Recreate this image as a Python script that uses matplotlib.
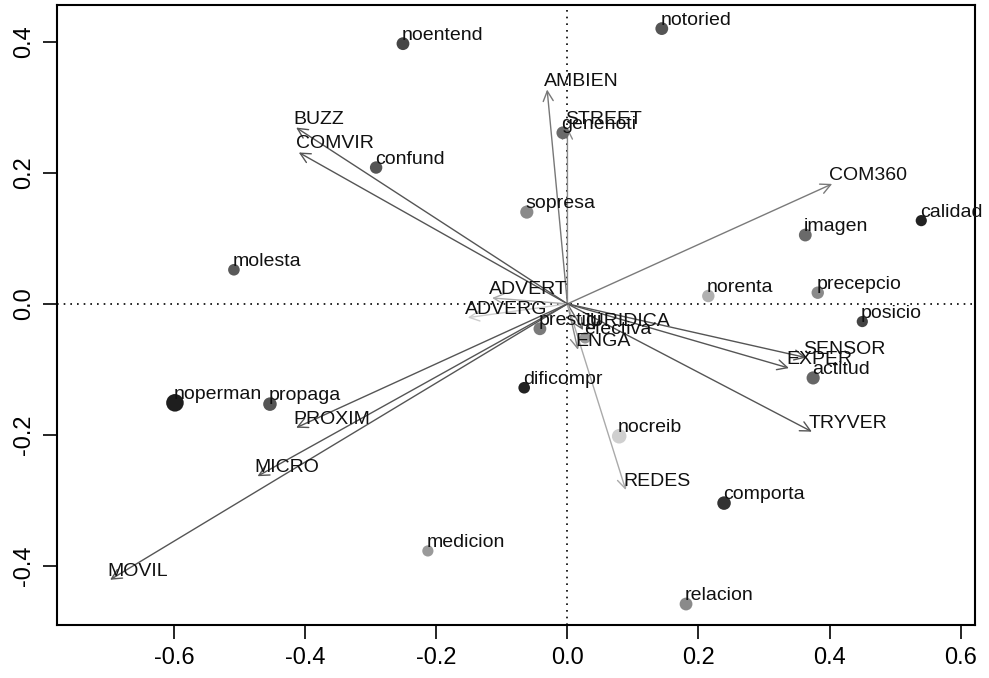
import matplotlib
matplotlib.use("Agg")
import matplotlib.pyplot as plt

plt.rcParams["font.family"] = ["Liberation Sans", "DejaVu Sans"]

# point scores (individual categories)
point_names = ["noentend", "notoried", "genenoti", "confund", "sopresa", "molesta",
               "imagen", "calidad", "norenta", "precepcio", "posicio", "actitud",
               "prestigi", "efectiva", "dificompr", "noperman", "propaga", "nocreib",
               "comporta", "medicion", "relacion"]
point_x = [-0.251, 0.144, -0.007, -0.292, -0.062, -0.509,
           0.363, 0.540, 0.215, 0.382, 0.450, 0.375,
           -0.042, 0.027, -0.066, -0.599, -0.454, 0.079,
           0.239, -0.213, 0.181]
point_y = [0.397, 0.420, 0.261, 0.208, 0.140, 0.052,
           0.105, 0.127, 0.012, 0.017, -0.027, -0.113,
           -0.038, -0.052, -0.128, -0.151, -0.153, -0.202,
           -0.304, -0.377, -0.458]
point_grey = ["#454545", "#555555", "#6a6a6a", "#555555", "#8a8a8a", "#5a5a5a",
              "#6a6a6a", "#222222", "#b0b0b0", "#8a8a8a", "#444444", "#666666",
              "#7a7a7a", "#9a9a9a", "#222222", "#1e1e1e", "#555555", "#cfcfcf",
              "#333333", "#9a9a9a", "#8a8a8a"]
point_size = [85, 85, 85, 80, 90, 70,
              85, 65, 80, 80, 65, 90,
              85, 65, 70, 160, 95, 110,
              95, 65, 85]

# variable loadings (arrows)
var_names = ["AMBIEN", "STREET", "BUZZ", "COMVIR", "COM360", "ADVERT", "ADVERG",
             "JURIDICA", "ENGA", "SENSOR", "EXPER", "TRYVER", "REDES",
             "PROXIM", "MICRO", "MOVIL"]
var_x = [-0.031, 0.000, -0.414, -0.410, 0.404, -0.115, -0.152,
         0.024, 0.016, 0.364, 0.338, 0.373, 0.089,
         -0.414, -0.473, -0.698]
var_y = [0.327, 0.269, 0.269, 0.231, 0.183, 0.009, -0.021,
         -0.040, -0.070, -0.082, -0.098, -0.195, -0.284,
         -0.189, -0.263, -0.421]
var_grey = ["#777777", "#8a8a8a", "#555555", "#555555", "#7a7a7a", "#aaaaaa", "#cccccc",
            "#666666", "#888888", "#555555", "#555555", "#555555", "#aaaaaa",
            "#555555", "#555555", "#555555"]

x_ticks = [-0.6, -0.4, -0.2, 0.0, 0.2, 0.4, 0.6]
y_ticks = [-0.4, -0.2, 0.0, 0.2, 0.4]

fig = plt.figure(figsize=(9.89, 6.78), dpi=100)
ax = fig.add_axes([57 / 989, 1 - 625 / 678, (975 - 57) / 989, (625 - 5) / 678])

ax.axhline(0, color="black", linestyle=(0, (1, 3)), lw=1.2, zorder=1)
ax.axvline(0, color="black", linestyle=(0, (1, 3)), lw=1.2, zorder=1)

for name, x, y, c in zip(var_names, var_x, var_y, var_grey):
    ax.annotate("", xy=(x, y), xytext=(0, 0),
                arrowprops=dict(arrowstyle="->", color=c, lw=1.0,
                                mutation_scale=18, shrinkA=0, shrinkB=0),
                zorder=2)
    ax.annotate(name, xy=(x, y), xytext=(-2, 0), textcoords="offset points",
                ha="left", va="bottom", fontsize=14, color="#111111", zorder=4)

ax.scatter(point_x, point_y, s=point_size, c=point_grey, zorder=3, linewidths=0)
for name, x, y in zip(point_names, point_x, point_y):
    ax.annotate(name, xy=(x, y), xytext=(-1, 0), textcoords="offset points",
                ha="left", va="bottom", fontsize=14, color="#111111", zorder=4)

ax.set_xlim(-0.779, 0.622)
ax.set_ylim(-0.490, 0.456)
ax.set_xticks(x_ticks)
ax.set_xticklabels([f"{v:.1f}" for v in x_ticks])
ax.set_yticks(y_ticks)
ax.set_yticklabels([f"{v:.1f}" for v in y_ticks], rotation=90, va="center")
ax.tick_params(axis="both", labelsize=17, length=10, width=1.2, pad=6)
for s in ax.spines.values():
    s.set_linewidth(1.5)

fig.savefig("out.png", dpi=100)
